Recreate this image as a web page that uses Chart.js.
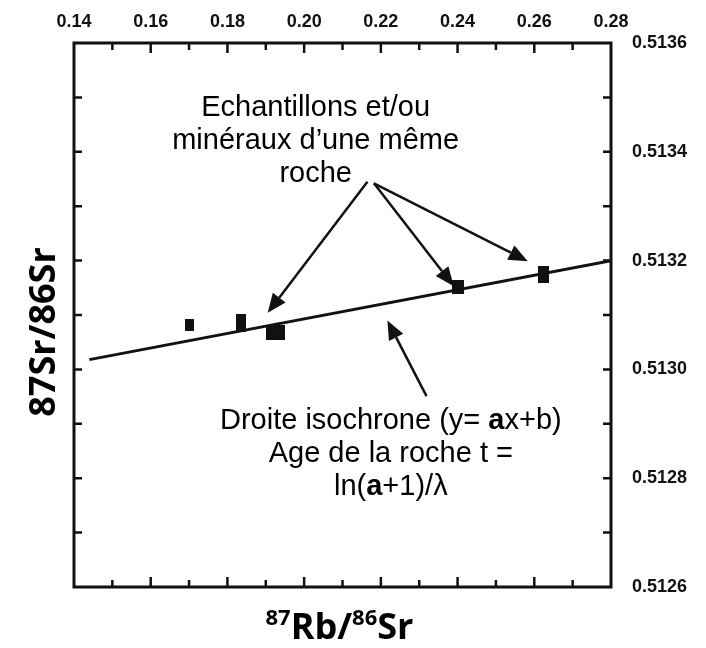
<!DOCTYPE html>
<html>
<head>
<meta charset="utf-8">
<title>Isochrone Rb-Sr</title>
<script src="https://cdn.jsdelivr.net/npm/chart.js@4"></script>
<style>
  html, body { margin: 0; padding: 0; background: #fff; }
  #chartDiv { width: 706px; height: 648px; }
</style>
</head>
<body>
<div id="chartDiv"><canvas id="myChart" width="706" height="648"></canvas></div>
<script>
// Samples: 87Rb/86Sr (x) and 87Sr/86Sr (y)
const rbSr = [0.170, 0.1835, 0.1926, 0.240, 0.2625];
const srSr = [0.513081, 0.513085, 0.513068, 0.513152, 0.513174];

// Isochron line end points
const isoX = [0.144, 0.28];
const isoY = [0.513018, 0.513200];

// Tick labels and tick marks
const xTickLabels = [0.14, 0.16, 0.18, 0.20, 0.22, 0.24, 0.26, 0.28];
const yTickLabels = [0.5126, 0.5128, 0.5130, 0.5132, 0.5134, 0.5136];
const xTickMarks = [0.15, 0.16, 0.17, 0.18, 0.19, 0.20, 0.21, 0.22, 0.23, 0.24, 0.25, 0.26, 0.27];
const yTickMarks = [0.5127, 0.5128, 0.5129, 0.5130, 0.5131, 0.5132, 0.5133, 0.5134, 0.5135];

// marker sizes (w, h in px) - the scanned squares are not all the same
const markerSizes = [[9, 12], [10, 18], [19, 15], [12, 14], [11, 17]];

// annotation anchors, in data units
const arrows = [
  [0.2165, 0.513345, 0.1905, 0.513104],
  [0.2182, 0.513342, 0.2390, 0.513153],
  [0.2182, 0.513342, 0.2583, 0.513199],
  [0.2319, 0.512951, 0.2217, 0.513090]
];
const topNote = { x: 0.2030, y: 0.513480, lines: [
  [['Echantillons et/ou', false]],
  [['minéraux d\u2019une même', false]],
  [['roche', false]]
]};
const bottomNote = { x: 0.2226, y: 0.512905, lines: [
  [['Droite isochrone (y= ', false], ['a', true], ['x+b)', false]],
  [['Age de la roche t =', false]],
  [['ln(', false], ['a', true], ['+1)/\u03bb', false]]
]};

const annoFont = "'Liberation Sans', Arial, sans-serif";
const titleFont = "'Open Sans', Lato, sans-serif";
const tickFont = "'Liberation Sans Narrow', 'Arial Narrow', 'Liberation Sans', Arial, sans-serif";

// small black rectangles used as point markers
function makeMarker(w, h) {
  const c = document.createElement('canvas');
  c.width = w; c.height = h;
  const g = c.getContext('2d');
  g.fillStyle = '#111';
  g.fillRect(0, 0, w, h);
  return c;
}

function drawRich(ctx, parts, cx, cy, size) {
  let total = 0;
  const widths = parts.map(p => {
    ctx.font = (p[1] ? 'bold ' : '') + size + 'px ' + annoFont;
    const w = ctx.measureText(p[0]).width;
    total += w;
    return w;
  });
  let x = cx - total / 2;
  ctx.textAlign = 'left';
  ctx.textBaseline = 'middle';
  parts.forEach((p, i) => {
    ctx.font = (p[1] ? 'bold ' : '') + size + 'px ' + annoFont;
    ctx.fillText(p[0], x, cy);
    x += widths[i];
  });
}

function drawArrow(ctx, x1, y1, x2, y2) {
  const ang = Math.atan2(y2 - y1, x2 - x1);
  const head = 19, half = 8;
  const bx = x2 - head * Math.cos(ang), by = y2 - head * Math.sin(ang);
  ctx.beginPath();
  ctx.moveTo(x1, y1);
  ctx.lineTo(bx, by);
  ctx.stroke();
  ctx.beginPath();
  ctx.moveTo(x2, y2);
  ctx.lineTo(bx + half * Math.sin(ang), by - half * Math.cos(ang));
  ctx.lineTo(bx - half * Math.sin(ang), by + half * Math.cos(ang));
  ctx.closePath();
  ctx.fill();
}

// frame, inward ticks, titles and notes
const framePlugin = {
  id: 'frame',
  afterDraw(chart) {
    const ctx = chart.ctx;
    const a = chart.chartArea;
    const xs = chart.scales.x, ys = chart.scales.y;
    ctx.save();
    ctx.strokeStyle = '#111';
    ctx.fillStyle = '#111';
    ctx.lineWidth = 3;
    ctx.strokeRect(a.left, a.top, a.right - a.left, a.bottom - a.top);

    ctx.lineWidth = 2.5;
    xTickMarks.forEach(v => {
      const px = xs.getPixelForValue(v);
      const len = xTickLabels.some(l => Math.abs(l - v) < 1e-6) ? 10 : 7;
      ctx.beginPath();
      ctx.moveTo(px, a.top); ctx.lineTo(px, a.top + len);
      ctx.moveTo(px, a.bottom); ctx.lineTo(px, a.bottom - len);
      ctx.stroke();
    });
    yTickMarks.forEach(v => {
      const py = ys.getPixelForValue(v);
      ctx.beginPath();
      ctx.moveTo(a.left, py); ctx.lineTo(a.left + 8, py);
      ctx.moveTo(a.right, py); ctx.lineTo(a.right - 8, py);
      ctx.stroke();
    });

    // arrows
    ctx.lineWidth = 2.5;
    arrows.forEach(r => {
      drawArrow(ctx, xs.getPixelForValue(r[0]), ys.getPixelForValue(r[1]),
        xs.getPixelForValue(r[2]), ys.getPixelForValue(r[3]));
    });

    // notes
    ctx.fillStyle = '#000';
    [topNote, bottomNote].forEach(n => {
      const cx = xs.getPixelForValue(n.x);
      const cy = ys.getPixelForValue(n.y);
      n.lines.forEach((parts, i) => drawRich(ctx, parts, cx, cy + i * 33, 29));
    });

    // axis titles
    ctx.fillStyle = '#000';
    const xt = [['87', true], ['Rb/', false], ['86', true], ['Sr', false]];
    let tw = 0;
    const ws = xt.map(p => {
      ctx.font = 'bold ' + (p[1] ? 22 : 36) + 'px ' + titleFont;
      const w = ctx.measureText(p[0]).width;
      tw += w;
      return w;
    });
    let x = (a.left + a.right) / 2 - tw / 2 - 3;
    ctx.textAlign = 'left';
    ctx.textBaseline = 'alphabetic';
    xt.forEach((p, i) => {
      ctx.font = 'bold ' + (p[1] ? 22 : 36) + 'px ' + titleFont;
      ctx.fillText(p[0], x, p[1] ? 625 : 639);
      x += ws[i];
    });

    ctx.translate(45, 332);
    ctx.rotate(-Math.PI / 2);
    ctx.font = 'bold 36px ' + titleFont;
    ctx.textAlign = 'center';
    ctx.textBaseline = 'middle';
    ctx.fillText('87Sr/86Sr', 0, 0);
    ctx.restore();
  }
};

const ctx = document.getElementById('myChart').getContext('2d');

const myChart = new Chart(ctx, {
  type: 'scatter',
  data: {
    datasets: [{
      label: 'Echantillons',
      data: rbSr.map((v, i) => ({ x: v, y: srSr[i] })),
      pointStyle: markerSizes.map(s => makeMarker(s[0], s[1])),
      pointRadius: 5,
      order: 1
    }, {
      label: 'Isochrone',
      data: isoX.map((v, i) => ({ x: v, y: isoY[i] })),
      showLine: true,
      borderColor: '#111',
      borderWidth: 3,
      pointRadius: 0,
      order: 2
    }]
  },
  options: {
    responsive: false,
    animation: false,
    layout: { padding: 0 },
    plugins: { legend: { display: false }, tooltip: { enabled: false } },
    scales: {
      x: {
        type: 'linear', position: 'bottom', min: 0.14, max: 0.28,
        grid: { display: false, drawTicks: false }, border: { display: false },
        ticks: { display: false },
        afterFit: s => { s.height = 61; }
      },
      x2: {
        type: 'linear', position: 'top', min: 0.14, max: 0.28,
        grid: { display: false, drawTicks: false }, border: { display: false },
        afterBuildTicks: s => { s.ticks = xTickLabels.map(v => ({ value: v })); },
        ticks: {
          padding: 10, color: '#111',
          font: { family: tickFont, size: 18, weight: 'bold' },
          callback: v => v.toFixed(2)
        },
        afterFit: s => { s.height = 43; }
      },
      y: {
        type: 'linear', position: 'left', min: 0.5126, max: 0.5136,
        grid: { display: false, drawTicks: false }, border: { display: false },
        ticks: { display: false },
        afterFit: s => { s.width = 74; }
      },
      y2: {
        type: 'linear', position: 'right', min: 0.5126, max: 0.5136,
        grid: { display: false, drawTicks: false }, border: { display: false },
        afterBuildTicks: s => { s.ticks = yTickLabels.map(v => ({ value: v })); },
        ticks: {
          padding: 21, color: '#111',
          font: { family: tickFont, size: 18, weight: 'bold' },
          callback: v => v.toFixed(4)
        },
        afterFit: s => { s.width = 95; }
      }
    }
  },
  plugins: [framePlugin]
});
</script>
</body>
</html>
